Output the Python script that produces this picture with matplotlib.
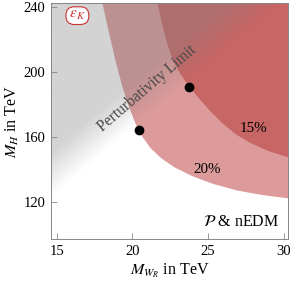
import numpy as np
import matplotlib
matplotlib.use("Agg")
import matplotlib.pyplot as plt

plt.rcParams['font.family'] = ['Liberation Serif', 'DejaVu Serif']
plt.rcParams['mathtext.fontset'] = 'stix'

# 20% contour (outer edge of the light band)
outer_x = [17.95, 18.4, 18.85, 19.3, 19.75, 20.2, 20.65, 21.2, 21.9, 22.8, 24.0, 25.4, 27.0, 28.7, 30.4]
outer_y = [245, 226, 208, 192, 179, 168.3, 160.2, 153.2, 147.0, 141.3, 135.8, 131.0, 127.0, 124.2, 122.2]
# 15% contour
inner_x = [21.6, 21.95, 22.3, 22.7, 23.2, 23.75, 24.4, 25.1, 25.9, 26.8, 27.8, 29.0, 30.4]
inner_y = [245, 230, 217.5, 206.5, 198.5, 191.0, 183.8, 176.5, 169.0, 162.0, 156.4, 151.4, 147.3]
# benchmark points on the perturbativity limit
dot_x = [20.4, 23.75]
dot_y = [164.6, 191.0]

xlim = (14.6, 30.3)
ylim = (97.2, 242.5)

fig = plt.figure(figsize=(2.91, 2.85), dpi=100)
ax = fig.add_axes([0.175, 0.161, 0.815, 0.828])
ax.set_xlim(*xlim)
ax.set_ylim(*ylim)

# red bands
ax.fill(outer_x + [31, 31], outer_y + [122.2, 245], color='#dc9a9a', lw=0, zorder=1)
ax.fill(inner_x + [31, 31], inner_y + [147.3, 245], color='#c86565', lw=0, zorder=2)

# gray shading above the perturbativity limit, fading out towards the line
gx = np.linspace(xlim[0], xlim[1], 300)
gy = np.linspace(ylim[0], ylim[1], 300)
GX, GY = np.meshgrid(gx, gy)
pts = ax.transData.transform(np.column_stack([GX.ravel(), GY.ravel()]))
p0 = ax.transData.transform((dot_x[0], dot_y[0]))
p1 = ax.transData.transform((dot_x[1], dot_y[1]))
d = (p1 - p0) / np.hypot(*(p1 - p0))
n = np.array([-d[1], d[0]])
dist = ((pts - p0) @ n).reshape(GX.shape)
alpha = 0.345 * np.clip((dist - 5) / 35, 0, 1)
img = np.zeros(GX.shape + (4,))
img[..., :3] = 128 / 255
img[..., 3] = alpha
ax.imshow(img, extent=(xlim[0], xlim[1], ylim[0], ylim[1]), origin='lower',
          aspect='auto', zorder=3, interpolation='bilinear')

ax.plot(dot_x, dot_y, 'o', color='black', ms=6, zorder=5)

ax.text(20.97, 190.2, 'Perturbativity Limit', rotation=40.5, rotation_mode='anchor',
        ha='center', va='center', fontsize=11.2, color='#4a4a4a', zorder=6)
ax.text(28.0, 165.5, '15%', ha='center', va='center', fontsize=10.8, zorder=6)
ax.text(24.95, 140.3, '20%', ha='center', va='center', fontsize=10.8, zorder=6)
ax.text(29.7, 107.7, r'$\mathcal{P}$ & nEDM', ha='right', va='center', fontsize=11.5, zorder=6)
ax.text(16.35, 234.8, r'$\,\epsilon_K\,$', ha='center', va='center', fontsize=11, color='#c83232',
        zorder=6, bbox=dict(boxstyle='round,pad=0.15,rounding_size=0.55', fc='white', ec='#c83232', lw=0.8))

ax.set_xticks([15, 20, 25, 30])
ax.set_yticks([120, 160, 200, 240])
ax.tick_params(direction='in', length=4, width=0.6, color='#888888', labelsize=10.5, pad=4)
for s in ax.spines.values():
    s.set_color('#888888')
    s.set_linewidth(0.7)

ax.set_xlabel(r'$M_{W_R}$ in TeV', fontsize=11.5, labelpad=3)
ax.set_ylabel(r'$M_H$ in TeV', fontsize=11.5, labelpad=2)

fig.savefig('out.png', dpi=100)
